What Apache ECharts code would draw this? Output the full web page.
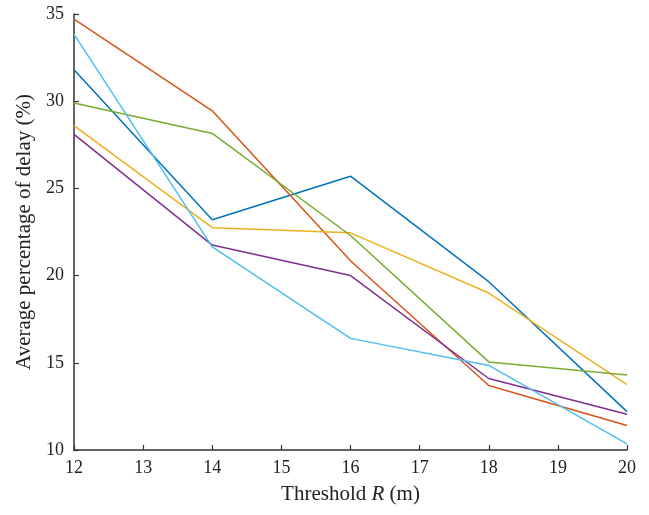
<!DOCTYPE html>
<html>
<head>
<meta charset="utf-8">
<script src="https://cdn.jsdelivr.net/npm/echarts@6/dist/echarts.min.js"></script>
<style>html,body{margin:0;padding:0;background:#fff;}#c{width:649px;height:515px;}</style>
</head>
<body>
<div id="c"></div>
<script>
const xValues = [12, 14, 16, 18, 20];
const seriesBlue   = [31.8, 23.2, 25.7, 19.65, 12.2];
const seriesRed    = [34.7, 29.45, 20.85, 13.7, 11.4];
const seriesYellow = [28.6, 22.75, 22.45, 19.0, 13.75];
const seriesPurple = [28.1, 21.75, 20.0, 14.1, 12.05];
const seriesGreen  = [29.9, 28.15, 22.3, 15.05, 14.3];
const seriesCyan   = [33.85, 21.65, 16.4, 14.85, 10.35];
const colors = ['#0072BD', '#D95319', '#EDB120', '#7E2F8E', '#77AC30', '#4DBEEE'];
const allSeries = [seriesBlue, seriesRed, seriesYellow, seriesPurple, seriesGreen, seriesCyan];

const font = 'Liberation Serif';
const chart = echarts.init(document.getElementById('c'));
chart.setOption({
  animation: false,
  backgroundColor: '#fff',
  grid: { left: 74, right: 22, top: 14, bottom: 65 },
  xAxis: {
    type: 'value', min: 12, max: 20, interval: 1,
    name: '{n|Threshold }{i|R}{n| (m)}',
    nameLocation: 'middle', nameGap: 34,
    nameTextStyle: { rich: {
      n: { fontFamily: font, fontSize: 21, color: '#222' },
      i: { fontFamily: font, fontSize: 21, fontStyle: 'italic', color: '#222' }
    }},
    axisLine: { show: true, onZero: false, lineStyle: { color: '#333', width: 1.5 } },
    axisTick: { show: true, inside: true, length: 5, lineStyle: { color: '#333', width: 1.2 } },
    axisLabel: { fontFamily: font, fontSize: 18, color: '#222', margin: 9 },
    splitLine: { show: false }
  },
  yAxis: {
    type: 'value', min: 10, max: 35, interval: 5,
    name: 'Average percentage of delay (%)',
    nameLocation: 'middle', nameGap: 38,
    nameTextStyle: { fontFamily: font, fontSize: 21, color: '#222' },
    axisLine: { show: true, onZero: false, lineStyle: { color: '#333', width: 1.5 } },
    axisTick: { show: true, inside: true, length: 5, lineStyle: { color: '#333', width: 1.2 } },
    axisLabel: { fontFamily: font, fontSize: 18, color: '#222', margin: 10 },
    splitLine: { show: false }
  },
  series: allSeries.map((s, k) => ({
    type: 'line',
    data: s.map((v, j) => [xValues[j], v]),
    showSymbol: false,
    lineStyle: { color: colors[k], width: 1.5 },
    itemStyle: { color: colors[k] }
  }))
});
</script>
</body>
</html>
